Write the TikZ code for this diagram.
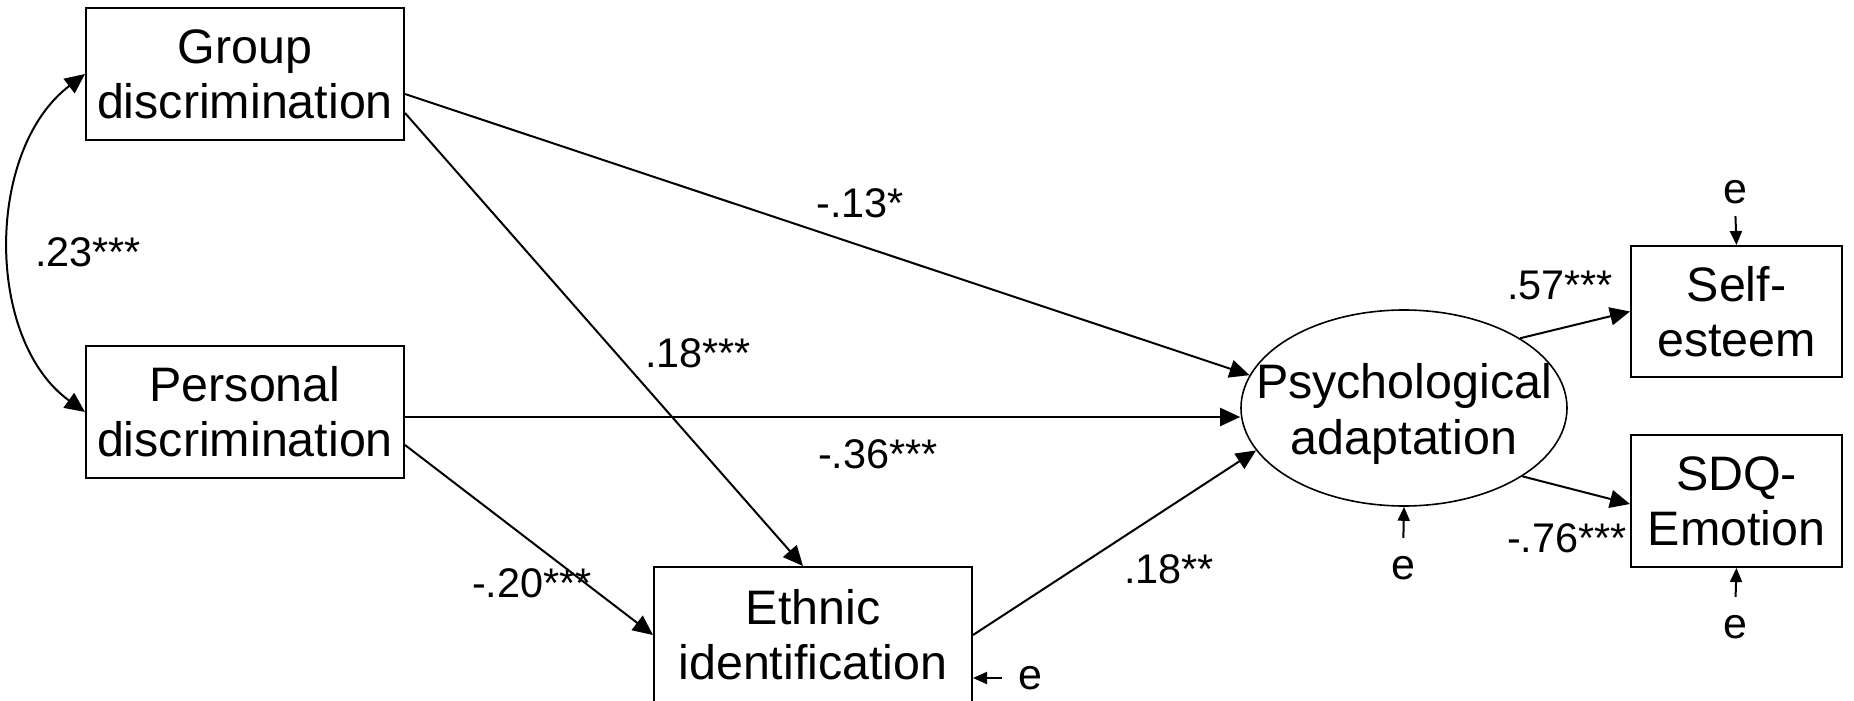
\documentclass[tikz,border=0pt]{standalone}
\usepackage{fontspec}
\setmainfont{Liberation Sans}
\usetikzlibrary{arrows.meta,shapes.geometric}

\tikzset{
  varbox/.style={draw, line width=1pt, inner sep=0pt, align=center,
    font=\fontsize{24.2pt}{27.5pt}\selectfont},
  boxtext/.style={inner sep=0pt, align=center,
    font=\fontsize{24.2pt}{28pt}\selectfont},
  latent/.style={draw, ellipse, line width=0.8pt, inner sep=0pt},
  coef/.style={inner sep=0pt, font=\fontsize{20.7pt}{24pt}\selectfont},
  errlab/.style={inner sep=0pt, font=\fontsize{21.5pt}{25pt}\selectfont},
  path/.style={line width=1pt, -{Triangle[length=10pt,width=9pt]}},
  covpath/.style={line width=1pt,
    {Triangle[length=10pt,width=9pt]}-{Triangle[length=10pt,width=9pt]}},
  errpath/.style={line width=1pt, -{Triangle[length=7pt,width=6pt]}}
}

\begin{document}
\begin{tikzpicture}[x=0.5pt, y=-0.5pt]
  \useasboundingbox (0,0) rectangle (1854,701);

  % observed variables
  \node[varbox, minimum width=159pt, minimum height=66pt] (grp) at (245,74) {Group\\discrimination};
  \node[varbox, minimum width=159pt, minimum height=66pt] (per) at (245,412) {Personal\\discrimination};
  \node[varbox, minimum width=159pt, minimum height=68pt] (eth) at (813,635) {Ethnic\\identification};
  \node[varbox, minimum width=105.5pt, minimum height=65.5pt] (self) at (1736.5,311.5) {Self-\\esteem};
  \node[varbox, minimum width=105.5pt, minimum height=66pt] (sdq) at (1736.5,501) {SDQ-\\Emotion};

  % latent variable
  \node[latent, minimum width=163pt, minimum height=98pt] (psy) at (1404,408) {};
  \node[boxtext] (psytxt) at (1404,414) {Psychological\\adaptation};

  % error terms
  \node[errlab] (eeth) at (1030,678) {e};
  \node[errlab] (epsy) at (1403,568) {e};
  \node[errlab] (eself) at (1735,192) {e};
  \node[errlab] (esdq) at (1735,627) {e};

  % covariance between the predictors
  \draw[covpath] (grp.west) .. controls (-15,150) and (-15,340) .. (per.west);

  % structural paths
  \draw[path] ([yshift=-10pt]grp.east) -- (psy.168.4);
  \draw[path] ([yshift=-19.5pt]grp.east) -- ([xshift=-5pt]eth.north);
  \draw[path] ([yshift=-2.5pt]per.east) -- ([yshift=-4.5pt]psy.west);
  \draw[path] ([yshift=-16.5pt]per.east) -- (eth.west);
  \draw[path] (eth.east) -- (psy.196.8);
  \draw[path] (psy.31.2) -- (self.west);
  \draw[path] (psy.-30.7) -- ([yshift=-1.5pt]sdq.west);

  % error arrows
  \draw[errpath, shorten <=8pt] (eeth.west) -- (eeth.west -| eth.east);
  \draw[errpath, shorten <=9pt] (epsy.north) -- (psy.south);
  \draw[errpath, shorten <=6pt] (eself.south) -- (self.north);
  \draw[errpath, shorten <=9pt] (esdq.north) -- (sdq.south);

  % coefficients
  \node[coef] (c1) at (88,252) {.23***};
  \node[coef] (c2) at (860,203) {-.13*};
  \node[coef] (c3) at (698,353) {.18***};
  \node[coef] (c4) at (878,454) {-.36***};
  \node[coef] (c5) at (532,583) {-.20***};
  \node[coef] (c6) at (1169,569) {.18**};
  \node[coef] (c7) at (1560,285) {.57***};
  \node[coef] (c8) at (1567,538) {-.76***};
\end{tikzpicture}
\end{document}
